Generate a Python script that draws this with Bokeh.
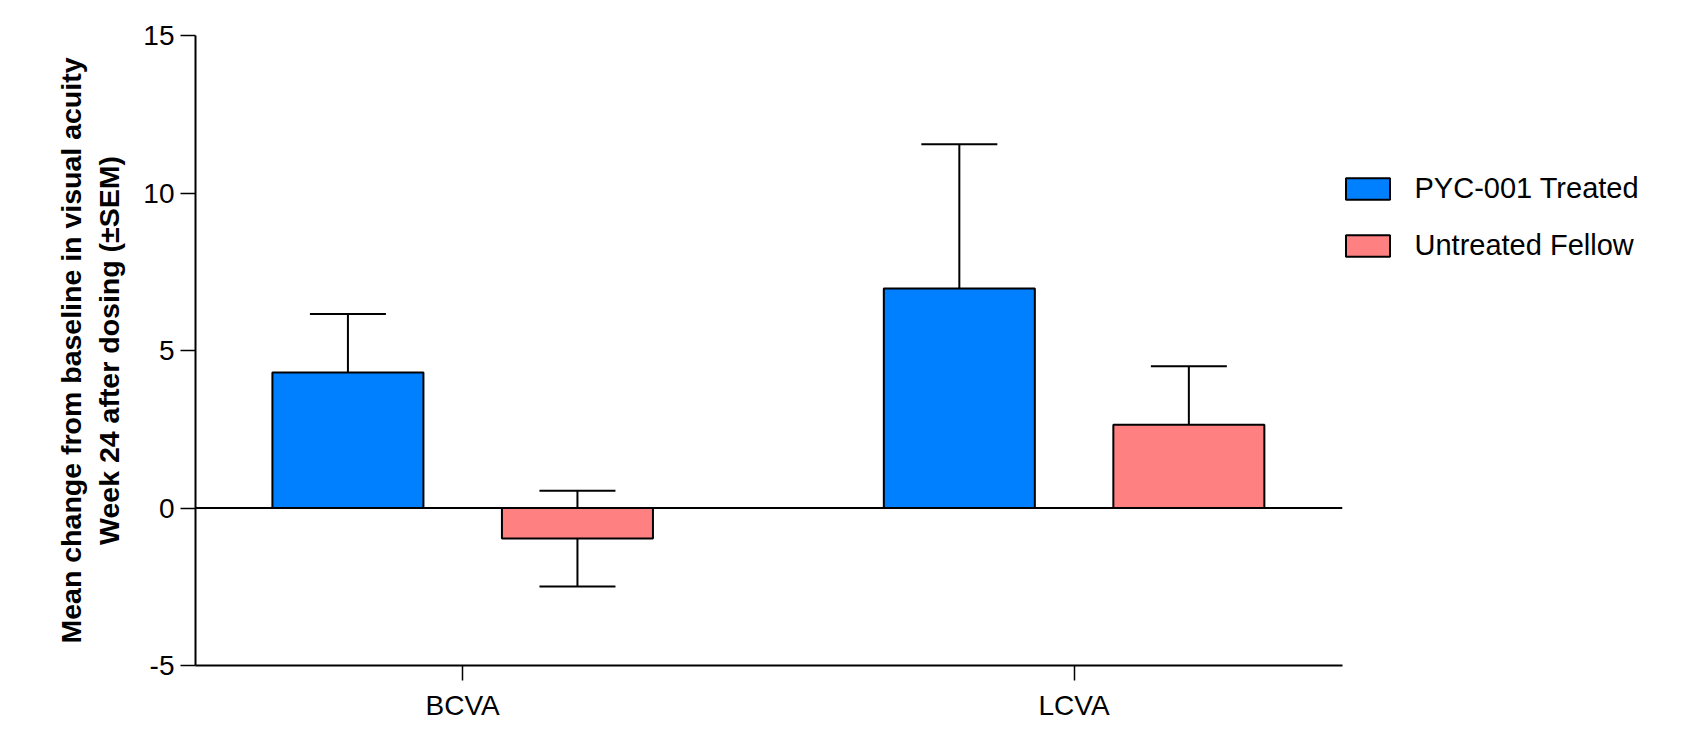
from bokeh.plotting import figure
from bokeh.models import (ColumnDataSource, Whisker, TeeHead, Span, Legend, LegendItem,
                          FixedTicker)
from bokeh.embed import file_html
from bokeh.resources import INLINE

# ---- data ----
categories = ["BCVA", "LCVA"]
series_names = ["PYC-001 Treated", "Untreated Fellow"]
treated_mean = [4.30, 6.97]
treated_sem = [1.86, 4.58]
untreated_mean = [-0.97, 2.64]
untreated_sem = [1.52, 1.86]
y_ticks = [-5, 0, 5, 10, 15]
y_tick_labels = ["-5", "0", "5", "10", "15"]

# ---- styles ----
FONT = "Liberation Sans"
BLUE = "#007FFF"
PINK = "#FF8080"
OFFSET = 0.1877
BAR_W = 0.247

cat_x = list(range(len(categories)))

p = figure(frame_width=1147, frame_height=630, output_backend="svg", toolbar_location=None,
           x_range=(-0.437, 1.439), y_range=(-5, 15),
           min_border_left=195, min_border_right=0, min_border_top=35,
           min_border_bottom=70)
p.outline_line_color = None
p.grid.visible = False
p.background_fill_color = "white"
p.border_fill_color = "white"

renderers = []
for means, sems, color, sign in [(treated_mean, treated_sem, BLUE, -1),
                                 (untreated_mean, untreated_sem, PINK, 1)]:
    xs = [c + sign * OFFSET for c in cat_x]
    src = ColumnDataSource(dict(
        x=xs, top=means,
        upper=[m + s for m, s in zip(means, sems)],
        lower=[m - s for m, s in zip(means, sems)],
    ))
    r = p.vbar(x="x", top="top", bottom=0, width=BAR_W, source=src,
               fill_color=color, line_color="black", line_width=2)
    renderers.append(r)
    w = Whisker(base="x", upper="upper", lower="lower", source=src,
                line_color="black", line_width=2,
                upper_head=TeeHead(size=76, line_color="black", line_width=2),
                lower_head=TeeHead(size=76, line_color="black", line_width=2))
    p.add_layout(w)

p.add_layout(Span(location=0, dimension="width", line_color="black", line_width=2))

# axes
p.yaxis.ticker = FixedTicker(ticks=y_ticks)
p.yaxis.major_label_overrides = {t: s for t, s in zip(y_ticks, y_tick_labels)}
p.yaxis.axis_label = "Mean change from baseline in visual acuity\nWeek 24 after dosing (±SEM)"
p.yaxis.axis_label_text_font = FONT
p.yaxis.axis_label_text_font_style = "bold"
p.yaxis.axis_label_text_font_size = "28.5px"
p.yaxis.axis_label_text_color = "black"
p.yaxis.axis_label_standoff = 15
p.xaxis.ticker = FixedTicker(ticks=cat_x)
p.xaxis.major_label_overrides = {i: c for i, c in enumerate(categories)}
for ax in (p.xaxis, p.yaxis):
    ax.major_label_text_font = FONT
    ax.major_label_text_font_size = "28px"
    ax.major_label_text_color = "black"
    ax.axis_line_width = 2
    ax.axis_line_color = "black"
    ax.major_tick_line_width = 1.5
    ax.major_tick_line_color = "black"
    ax.major_tick_in = 0
    ax.major_tick_out = 15
    ax.minor_tick_line_color = None
p.yaxis.major_label_standoff = 6
p.xaxis.major_label_standoff = 9

legend = Legend(items=[LegendItem(label=n, renderers=[r]) for n, r in zip(series_names, renderers)],
                location=(-2.5, 403), orientation="vertical",
                glyph_width=55, glyph_height=27, label_height=22,
                label_standoff=20, spacing=24, padding=0, margin=0,
                label_text_font=FONT, label_text_font_size="29px",
                label_text_color="black",
                border_line_color=None, background_fill_alpha=0)
p.add_layout(legend, "right")

open("out.html", "w").write(file_html(p, INLINE))
